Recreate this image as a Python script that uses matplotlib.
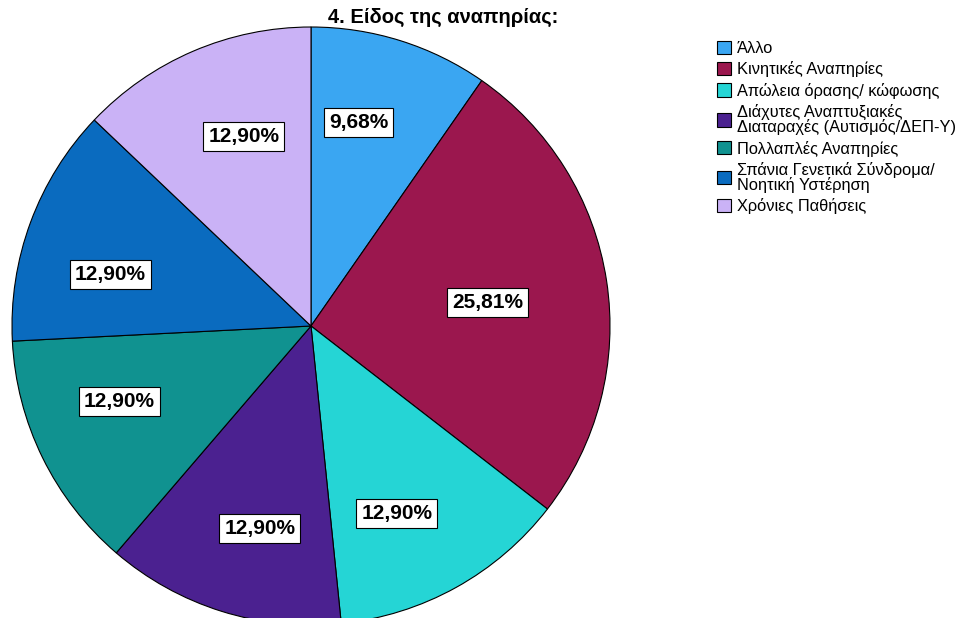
import numpy as np
import matplotlib.pyplot as plt
from matplotlib.patches import Patch

plt.rcParams['font.family'] = ['Liberation Sans', 'DejaVu Sans']

# Είδος αναπηρίας (συχνότητες, Ν = 31)
categories = ['Άλλο', 'Κινητικές Αναπηρίες', 'Απώλεια όρασης/ κώφωσης',
              'Διάχυτες Αναπτυξιακές\nΔιαταραχές (Αυτισμός/ΔΕΠ-Υ)',
              'Πολλαπλές Αναπηρίες',
              'Σπάνια Γενετικά Σύνδρομα/\nΝοητική Υστέρηση',
              'Χρόνιες Παθήσεις']
counts = [3, 8, 4, 4, 4, 4, 4]
percents = [9.68, 25.81, 12.90, 12.90, 12.90, 12.90, 12.90]
colors = ['#3aa6f2', '#9b174e', '#25d5d5', '#4b2190', '#109290', '#0a6bbf', '#cab2f6']
# θέση ετικέτας: απόσταση από το κέντρο και μετατόπιση γωνίας (μοίρες)
label_dist = [0.70, 0.597, 0.69, 0.70, 0.69, 0.693, 0.671]
label_shift = [4.2, -1.0, -4.5, 3.3, -4.6, 5.8, -3.7]

fig = plt.figure(figsize=(9.7, 6.18), dpi=100)
ax = fig.add_axes([12 / 970, (618 - 625) / 618, 598 / 970, 598 / 618])

wedges, _ = ax.pie(counts, colors=colors, startangle=90, counterclock=False,
                   radius=1, wedgeprops=dict(edgecolor='black', linewidth=0.8))
ax.set_xlim(-1, 1)
ax.set_ylim(-1, 1)
ax.axis('off')

# ετικέτες ποσοστών μέσα στα κομμάτια
for w, p, d, s in zip(wedges, percents, label_dist, label_shift):
    ang = np.deg2rad((w.theta1 + w.theta2) / 2 + s)
    ax.text(d * np.cos(ang), d * np.sin(ang), f'{p:.2f}%'.replace('.', ','),
            ha='center', va='center', fontsize=15, fontweight='bold',
            bbox=dict(boxstyle='square,pad=0.24', facecolor='white',
                      edgecolor='black', linewidth=0.8))

fig.text(443 / 970, 1 - 17 / 618, '4. Είδος της αναπηρίας:', ha='center',
         va='center', fontsize=14.5, fontweight='bold')

handles = [Patch(facecolor=c, edgecolor='black', linewidth=0.8) for c in colors]
leg = fig.legend(handles, categories, loc='upper left',
                 bbox_to_anchor=(717 / 970, 1 - 41 / 618), frameon=False,
                 fontsize=11.8, handlelength=0.85, handleheight=0.85,
                 handletextpad=0.35, labelspacing=0.32, borderpad=0,
                 borderaxespad=0)
for t in leg.get_texts():
    t.set_linespacing(0.95)

plt.savefig('out.png', dpi=100)
